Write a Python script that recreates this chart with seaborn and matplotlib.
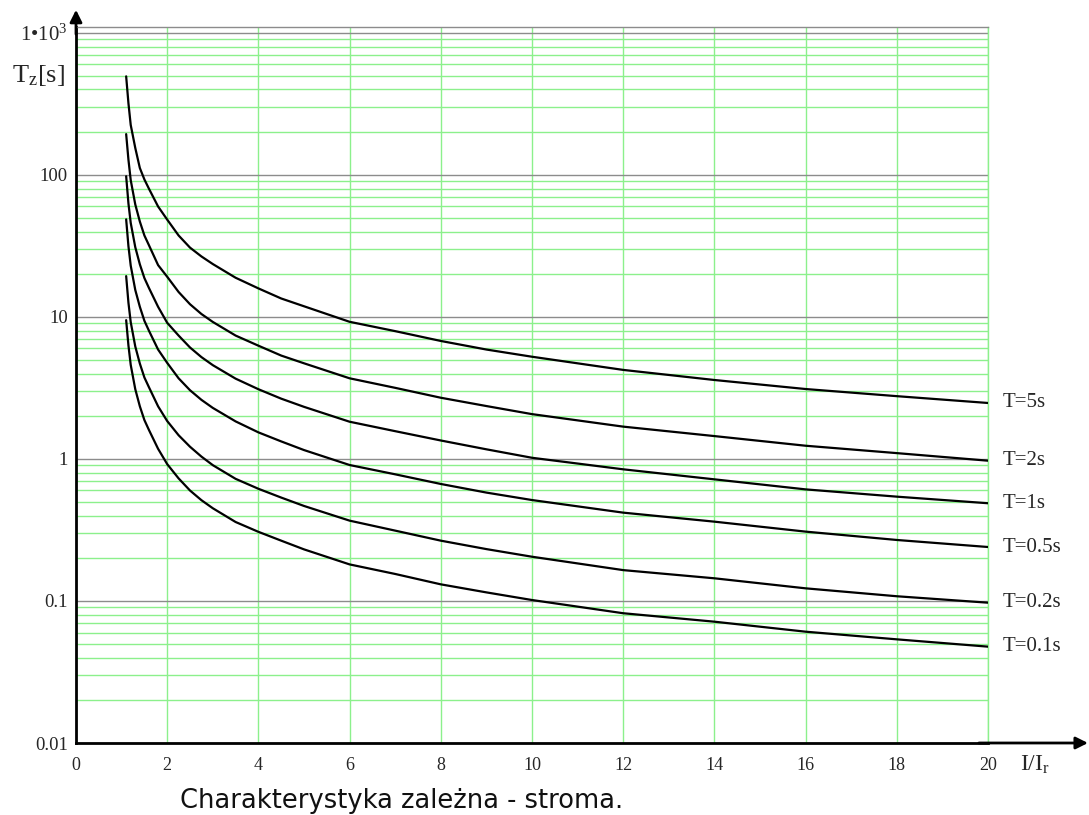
import matplotlib
matplotlib.use('Agg')
import matplotlib.pyplot as plt
from matplotlib.ticker import LogLocator, FixedLocator, NullFormatter
import numpy as np
import pandas as pd
import seaborn as sns

# %%
# I/Ir points read off the chart, and trip times [s] for each time multiplier T
current_ratio = [1.1, 1.15, 1.2, 1.3, 1.4, 1.5, 1.6, 1.8, 2, 2.25, 2.5, 2.75, 3, 3.5, 4, 4.5,
                 5, 6, 7, 8, 9, 10, 12, 14, 16, 18, 20]
t_5s = [495, 320, 225, 155, 112, 93, 80, 60, 48.5, 37.5, 30.8, 26.7, 23.6, 18.9, 15.9, 13.5,
        11.9, 9.25, 7.95, 6.78, 5.9, 5.25, 4.24, 3.6, 3.11, 2.77, 2.48]
t_2s = [194, 128, 92, 62, 47, 37.5, 32, 23.2, 19.2, 15, 12.3, 10.5, 9.23, 7.4, 6.28, 5.35,
        4.72, 3.7, 3.17, 2.7, 2.36, 2.07, 1.69, 1.45, 1.24, 1.1, 0.973]
t_1s = [98, 63, 46, 31, 23.5, 18.8, 16.0, 11.8, 9.1, 7.4, 6.1, 5.22, 4.58, 3.68, 3.1, 2.66,
        2.33, 1.83, 1.57, 1.35, 1.17, 1.02, 0.846, 0.719, 0.611, 0.543, 0.488]
t_05s = [48.7, 31.5, 23, 15.5, 11.8, 9.4, 8.0, 5.9, 4.75, 3.7, 3.05, 2.61, 2.29, 1.84, 1.54, 1.33,
         1.156, 0.907, 0.78, 0.667, 0.58, 0.514, 0.419, 0.362, 0.308, 0.269, 0.24]
t_02s = [19.4, 12.6, 9.2, 6.2, 4.7, 3.75, 3.2, 2.35, 1.85, 1.47, 1.22, 1.04, 0.905, 0.725, 0.617, 0.535,
         0.467, 0.368, 0.313, 0.266, 0.232, 0.205, 0.165, 0.1445, 0.1228, 0.108, 0.0973]
t_01s = [9.5, 6.3, 4.6, 3.1, 2.35, 1.88, 1.6, 1.18, 0.92, 0.73, 0.6, 0.513, 0.45, 0.36, 0.307, 0.266,
         0.231, 0.181, 0.155, 0.131, 0.115, 0.1016, 0.082, 0.0715, 0.0608, 0.0537, 0.0477]

curve_names = ['T=5s', 'T=2s', 'T=1s', 'T=0.5s', 'T=0.2s', 'T=0.1s']
curves = [t_5s, t_2s, t_1s, t_05s, t_02s, t_01s]

x_ticks = list(range(0, 21, 2))
y_ticks = [0.01, 0.1, 1, 10, 100, 1000]
y_ticklabels = ['0.01', '0.1', '1', '10', '100', '1•10$^{3}$']

df = pd.concat([pd.DataFrame({'I/Ir': current_ratio, 't': t, 'curve': name})
                for name, t in zip(curve_names, curves)], ignore_index=True)

# %%
sns.set_style('white')
plt.rcParams['font.family'] = ['Liberation Serif', 'DejaVu Serif']
plt.rcParams['mathtext.fontset'] = 'custom'
plt.rcParams['mathtext.rm'] = 'Liberation Serif'
plt.rcParams['mathtext.it'] = 'Liberation Serif'

fig = plt.figure(figsize=(10.89, 8.15), dpi=100)
ax = fig.add_axes([76/1089, 72/815, 912/1089, 716/815])

green = '#8cf08c'
grey = '#8c8c8c'

sns.lineplot(data=df, x='I/Ir', y='t', hue='curve', palette=['black']*6,
             estimator=None, legend=False, lw=1.6, ax=ax, zorder=3)

ax.set_yscale('log')
ax.set_xlim(0, 20)
ax.set_ylim(0.01, 1102)

ax.xaxis.set_major_locator(FixedLocator(x_ticks))
ax.set_xticklabels([str(v) for v in x_ticks])
ax.yaxis.set_major_locator(FixedLocator(y_ticks))
ax.set_yticklabels(y_ticklabels)
ax.yaxis.set_minor_locator(LogLocator(base=10, subs=np.arange(2, 10), numticks=20))
ax.yaxis.set_minor_formatter(NullFormatter())

ax.tick_params(axis='x', which='both', length=0, pad=10, labelsize=13)
ax.tick_params(axis='y', which='both', length=0, pad=6, labelsize=13.5)
ax.get_yticklabels()[-1].set_fontsize(15)

ax.set_axisbelow(True)
ax.grid(axis='x', which='major', color=green, lw=1)
ax.grid(axis='y', which='minor', color=green, lw=1)
ax.grid(axis='y', which='major', color=grey, lw=1)

ax.set_xlabel('')
ax.set_ylabel('')

for side in ['left', 'bottom']:
    ax.spines[side].set_color('black')
    ax.spines[side].set_linewidth(2)
ax.spines['top'].set_color(grey)
ax.spines['top'].set_linewidth(1)
ax.spines['right'].set_color(green)
ax.spines['right'].set_linewidth(1)

# axis arrows
ax.annotate('', xy=(0, 1.024), xytext=(0, 0.99), xycoords='axes fraction',
            arrowprops=dict(arrowstyle='-|>', color='black', lw=2, shrinkA=0, shrinkB=0,
                            mutation_scale=18))
ax.annotate('', xy=(1.1096, 0), xytext=(0.99, 0), xycoords='axes fraction',
            arrowprops=dict(arrowstyle='-|>', color='black', lw=2, shrinkA=0, shrinkB=0,
                            mutation_scale=18))

# curve labels at the right end
for name, t in zip(curve_names, curves):
    ax.text(20.32, t[-1], name, fontsize=15, va='center', ha='left', clip_on=False)

fig.text(12/1089, 1 - 75/815, '$\\mathrm{T_z[s]}$', fontsize=19, va='center', ha='left')
fig.text(1020/1089, 1 - 765/815, '$\\mathrm{I/I_r}$', fontsize=17, va='center', ha='left')
fig.text(180/1089, 1 - 801/815, 'Charakterystyka zależna - stroma.', fontsize=18.5,
         family='DejaVu Sans', color='#111111', va='center', ha='left')

fig.savefig('out.png', dpi=100)
